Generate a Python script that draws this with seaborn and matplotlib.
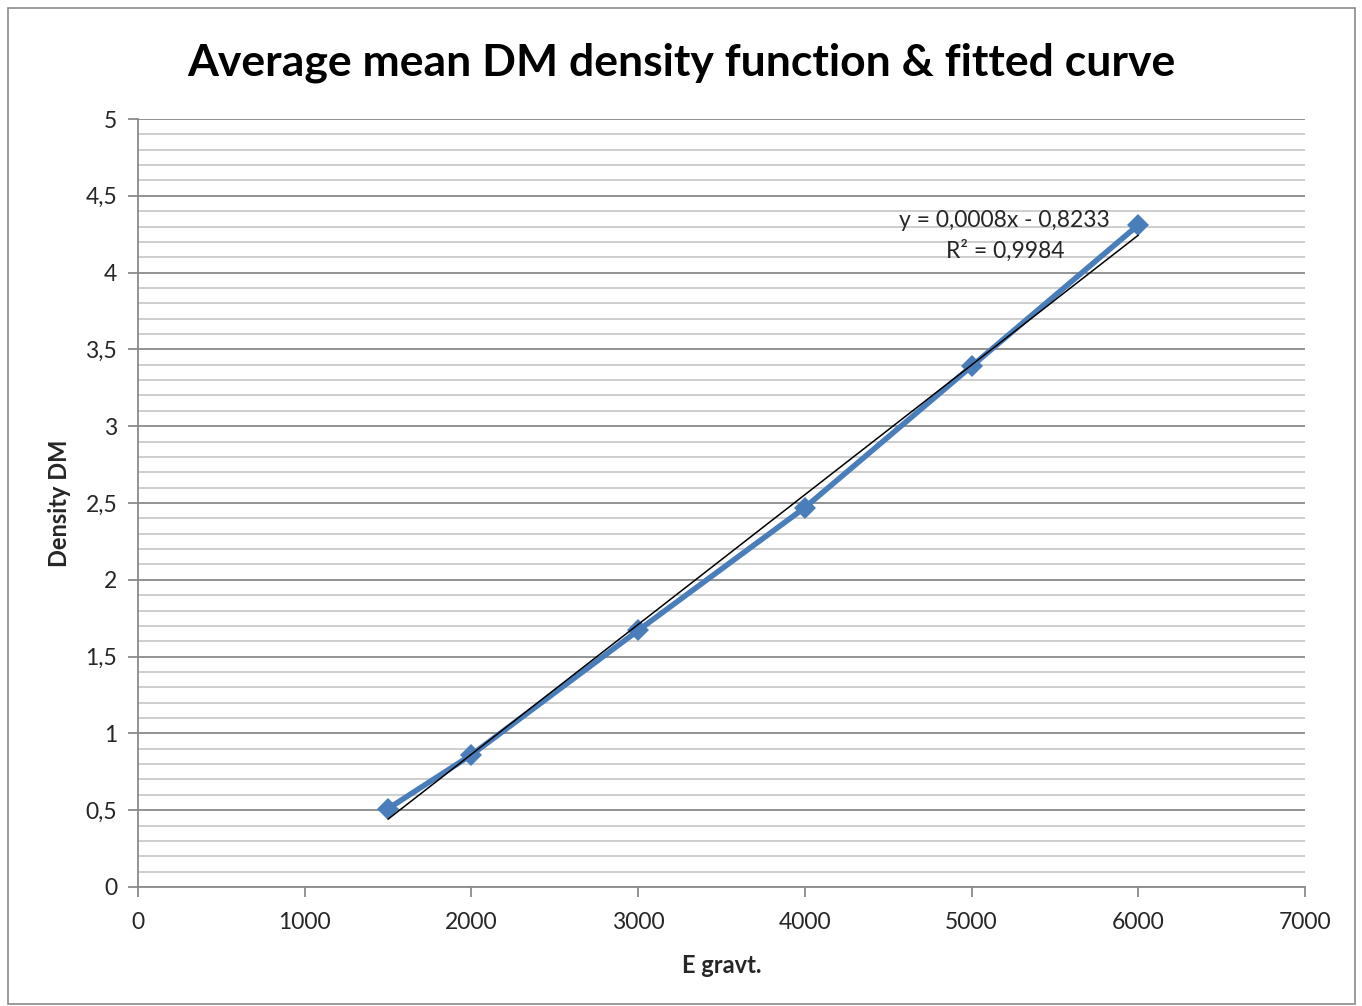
import numpy as np
import pandas as pd
import matplotlib
matplotlib.use('Agg')
import matplotlib.pyplot as plt
import seaborn as sns
from matplotlib.ticker import MultipleLocator, FuncFormatter
from matplotlib.patches import Rectangle

# Data
e_gravt = [1500, 2000, 3000, 4000, 5000, 6000]
density_dm = [0.51, 0.86, 1.67, 2.47, 3.39, 4.31]
trend_label = 'y = 0,0008x - 0,8233\nR² = 0,9984'

data = pd.DataFrame({'E gravt.': e_gravt, 'Density DM': density_dm})

sns.set_style('white')
plt.rcParams['font.family'] = ['Lato', 'DejaVu Sans']

fig = plt.figure(figsize=(13.62, 10.06), dpi=100)
ax = fig.add_axes([0.1013, 0.1183, 0.8568, 0.7634])

# grid
ax.yaxis.set_major_locator(MultipleLocator(0.5))
ax.yaxis.set_minor_locator(MultipleLocator(0.1))
ax.xaxis.set_major_locator(MultipleLocator(1000))
ax.grid(which='minor', axis='y', color='#c6c6c6', lw=1.2)
ax.grid(which='major', axis='y', color='#8a8a8a', lw=1.3)
ax.set_axisbelow(True)

# data line
sns.lineplot(x='E gravt.', y='Density DM', data=data, ax=ax, color='#4a7ebb',
             lw=4, marker='D', markersize=11, markeredgewidth=0)

# linear trendline
sns.regplot(x='E gravt.', y='Density DM', data=data, ax=ax, scatter=False,
            ci=None, truncate=True, color='black', line_kws={'lw': 1.1})

ax.text(5200, 4.24, trend_label, ha='center', va='center', fontsize=16.5,
        linespacing=1.45)

ax.set_xlim(0, 7000)
ax.set_ylim(0, 5)
ax.yaxis.set_major_formatter(FuncFormatter(lambda v, p: f'{v:g}'.replace('.', ',')))

for s in ['top', 'right']:
    ax.spines[s].set_visible(False)
for s in ['left', 'bottom']:
    ax.spines[s].set_color('#8a8a8a')
    ax.spines[s].set_linewidth(1.3)
ax.tick_params(axis='both', which='major', direction='out', length=7,
               color='#8a8a8a', width=1.3, labelsize=16.5, pad=8)
ax.tick_params(axis='x', which='major', pad=11, bottom=True)
ax.tick_params(axis='y', which='major', left=True)
ax.tick_params(axis='y', which='minor', length=0)

ax.set_xlabel('E gravt.', fontsize=17, fontweight='bold', labelpad=15)
ax.set_ylabel('Density DM', fontsize=17, fontweight='bold', labelpad=10)
fig.suptitle('Average mean DM density function & fitted curve', fontsize=32,
             fontweight='bold', x=0.5, y=0.958, color='black')

fig.patches.append(Rectangle((0.006, 0.002), 0.989, 0.99, transform=fig.transFigure,
                             fill=False, edgecolor='#8a8a8a', lw=1.2))

fig.savefig('out.png', dpi=100)
